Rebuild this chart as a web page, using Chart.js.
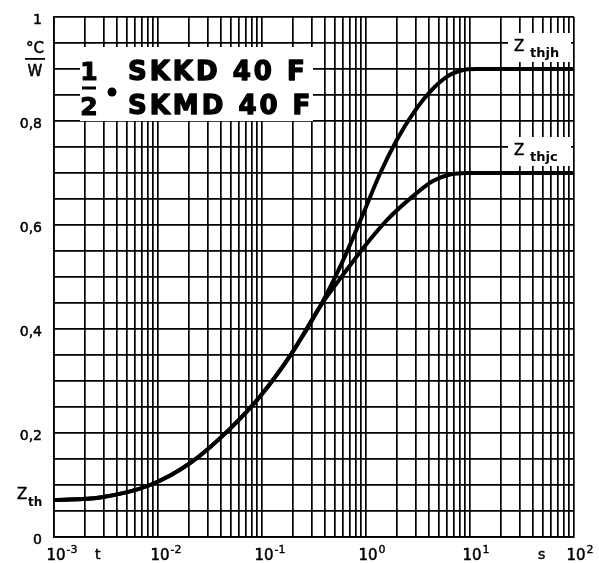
<!DOCTYPE html>
<html>
<head>
<meta charset="utf-8">
<script src="https://cdn.jsdelivr.net/npm/chart.js@4.4.0/dist/chart.umd.min.js"></script>
<style>body{margin:0;background:#fff}</style>
</head>
<body>
<canvas id="c" width="599" height="563"></canvas>
<script>
// Zthjh curve (t in s, Z in °C/W)
const timeJh = [0.001, 0.00277, 0.0084, 0.0203, 0.0492, 0.0957, 0.193, 0.361, 0.605, 0.942, 1.365, 1.97, 2.85, 4.12, 5.97, 8.61, 11.5, 100];
const zthjh  = [0.071, 0.076, 0.1, 0.142, 0.208, 0.27, 0.353, 0.443, 0.533, 0.622, 0.699, 0.763, 0.815, 0.856, 0.885, 0.898, 0.9, 0.9];
// Zthjc curve
const timeJc = [0.001, 0.00277, 0.0084, 0.0203, 0.0492, 0.0957, 0.193, 0.361, 0.605, 0.942, 1.58, 2.85, 4.44, 6.43, 9.3, 100];
const zthjc  = [0.071, 0.076, 0.1, 0.142, 0.208, 0.27, 0.353, 0.443, 0.505, 0.556, 0.609, 0.656, 0.685, 0.697, 0.7, 0.7];

const decades = [0.001, 0.01, 0.1, 1, 10];
const mults = [1, 2, 3, 4, 5, 6, 7, 8, 9];
const decadeExps = ['-3', '-2', '-1', '0', '1', '2'];
const yGrid = [0, 0.05, 0.1, 0.15, 0.2, 0.25, 0.3, 0.35, 0.4, 0.45, 0.5, 0.55, 0.6, 0.65, 0.7, 0.75, 0.8, 0.85, 0.9, 0.95, 1];
const yLabels = {'0.00': '0', '0.20': '0,2', '0.40': '0,4', '0.60': '0,6', '0.80': '0,8', '1.00': '1'};

const xGrid = [];
decades.forEach(d => mults.forEach(m => xGrid.push(+(d * m).toPrecision(3))));
xGrid.push(100);

const FONT = '"DejaVu Sans", sans-serif';

// filled + thin stroke, to get the heavy print look
function heavy(ctx, text, x, y, w) {
  ctx.lineWidth = w;
  ctx.strokeStyle = '#000';
  ctx.fillText(text, x, y);
  ctx.strokeText(text, x, y);
}

const labels = {
  id: 'labels',
  afterDraw(chart) {
    const { ctx, scales: { x, y } } = chart;
    ctx.save();
    ctx.fillStyle = '#000';
    ctx.textBaseline = 'alphabetic';
    ctx.lineJoin = 'round';

    // y labels
    ctx.font = '14px ' + FONT;
    ctx.textAlign = 'right';
    yGrid.forEach(v => {
      const t = yLabels[v.toFixed(2)];
      if (t) heavy(ctx, t, 42, y.getPixelForValue(v) + 7, 0.5);
    });

    // x decade labels
    decadeExps.forEach(e => {
      const px = x.getPixelForValue(Math.pow(10, +e)) + 2;
      ctx.font = '15px ' + FONT;
      ctx.textAlign = 'center';
      heavy(ctx, '10', px, 560, 0.5);
      const w = ctx.measureText('10').width;
      ctx.font = '11px ' + FONT;
      ctx.textAlign = 'left';
      heavy(ctx, e, px + w / 2 + 1, 553, 0.4);
    });
    ctx.font = '14px ' + FONT;
    ctx.textAlign = 'left';
    heavy(ctx, 't', 95, 559, 0.5);
    heavy(ctx, 's', 538, 559, 0.5);

    // unit °C / W
    ctx.font = '15px ' + FONT;
    ctx.textAlign = 'center';
    heavy(ctx, '°C', 35, 53, 0.5);
    ctx.fillRect(25, 58, 20, 1.8);
    heavy(ctx, 'W', 35, 76, 0.5);

    // Zth on the y axis
    ctx.textAlign = 'left';
    ctx.font = '15px ' + FONT;
    heavy(ctx, 'Z', 17, 499, 0.5);
    ctx.font = 'bold 12px ' + FONT;
    ctx.fillText('th', 28, 506);

    // curve names
    const tag = (top, sub) => {
      ctx.fillStyle = '#fff';
      ctx.fillRect(508, top, 63, 29);
      ctx.fillStyle = '#000';
      ctx.font = '15px ' + FONT;
      heavy(ctx, 'Z', 514, top + 18, 0.5);
      ctx.font = 'bold 13px ' + FONT;
      ctx.fillText(sub, 530, top + 24);
    };
    tag(33, 'thjh');
    tag(137, 'thjc');

    // type box
    ctx.fillStyle = '#fff';
    ctx.fillRect(80, 47, 233, 74);
    ctx.fillStyle = '#000';
    ctx.font = 'bold 25px ' + FONT;
    ctx.textAlign = 'center';
    heavy(ctx, '1', 89, 80, 1.2);
    heavy(ctx, '2', 89, 115, 1.2);
    ctx.fillRect(82, 86.5, 14, 3);
    ctx.beginPath();
    ctx.arc(112, 92, 4.5, 0, Math.PI * 2);
    ctx.fill();
    ctx.textAlign = 'left';
    ctx.font = 'bold 26px ' + FONT;
    ctx.letterSpacing = '3px';
    heavy(ctx, 'SKKD 40 F', 128, 80, 1.4);
    heavy(ctx, 'SKMD 40 F', 128, 114, 1.4);
    ctx.restore();
  }
};

new Chart(document.getElementById('c'), {
  type: 'line',
  data: {
    datasets: [
      {
        label: 'Zthjh',
        data: timeJh.map((t, i) => ({ x: t, y: zthjh[i] })),
        borderColor: '#000',
        borderWidth: 4,
        pointRadius: 0,
        cubicInterpolationMode: 'monotone',
        fill: false
      },
      {
        label: 'Zthjc',
        data: timeJc.map((t, i) => ({ x: t, y: zthjc[i] })),
        borderColor: '#000',
        borderWidth: 4,
        pointRadius: 0,
        cubicInterpolationMode: 'monotone',
        fill: false
      }
    ]
  },
  options: {
    responsive: false,
    animation: false,
    layout: { padding: { top: 17, right: 25, left: 0, bottom: 0 } },
    plugins: { legend: { display: false }, tooltip: { enabled: false } },
    scales: {
      x: {
        type: 'logarithmic',
        min: 0.001,
        max: 100,
        afterBuildTicks: s => { s.ticks = xGrid.map(v => ({ value: v })); },
        afterFit: s => { s.height = 26; },
        ticks: { display: false },
        grid: { color: '#000', lineWidth: 1.7, drawTicks: false },
        border: { color: '#000', width: 1.7 }
      },
      y: {
        min: 0,
        max: 1,
        afterBuildTicks: s => { s.ticks = yGrid.map(v => ({ value: v })); },
        afterFit: s => { s.width = 54; },
        ticks: { display: false },
        grid: { color: '#000', lineWidth: 1.7, drawTicks: false },
        border: { color: '#000', width: 1.7 }
      }
    }
  },
  plugins: [labels]
});
</script>
</body>
</html>
